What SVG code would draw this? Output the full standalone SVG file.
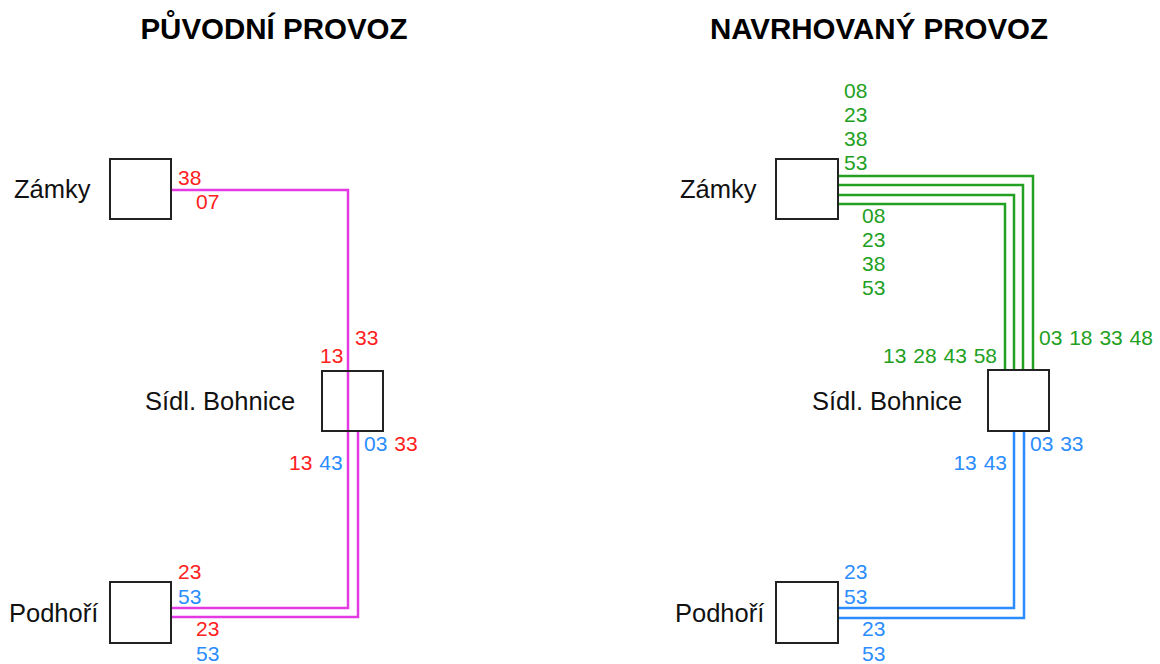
<svg xmlns="http://www.w3.org/2000/svg" width="1160" height="664" viewBox="0 0 1160 664">
  <style>
    .title { font-family: "Liberation Sans", Arial, sans-serif; font-weight: bold; font-size: 29.5px; fill: #000; text-anchor: middle; }
    .stop { fill: #fff; stroke: #222; stroke-width: 2; }
    .name { font-family: "Liberation Sans", Arial, sans-serif; font-size: 25.5px; fill: #111; }
    .num { font-family: "Liberation Sans", Arial, sans-serif; font-size: 21px; word-spacing: 1px; }
    .red { fill: #ff2020; }
    .blue { fill: #2a8cff; }
    .green { fill: #22a022; }
    .line { fill: none; stroke-width: 2.5; stroke-linejoin: miter; }
    .mag { stroke: #e33ae3; }
    .gr { stroke: #22a022; }
    .bl { stroke: #2a8cff; }
  </style>

  <rect width="1160" height="664" fill="#fff"/>

  <text class="title" x="274" y="39">PŮVODNÍ PROVOZ</text>
  <text class="title" x="879" y="39">NAVRHOVANÝ PROVOZ</text>

  <!-- routes -->
  <g id="connectors">
    <!-- original operation -->
    <path class="line mag" d="M171 190 H348 V608 H171"/>
    <path class="line mag" d="M358 431 V617 H171"/>
    <!-- proposed operation -->
    <path class="line gr" d="M838 176 H1033 V370"/>
    <path class="line gr" d="M838 185 H1023 V370"/>
    <path class="line gr" d="M838 195 H1014 V370"/>
    <path class="line gr" d="M838 204 H1005 V370"/>
    <path class="line bl" d="M1014 431 V608 H838"/>
    <path class="line bl" d="M1024 431 V618 H838"/>
  </g>

  <!-- left: original -->
  <g id="zamky-a">
    <rect class="stop" x="110" y="159" width="61" height="60"/>
    <text class="name" x="14" y="198">Zámky</text>
  </g>
  <g id="bohnice-a">
    <rect class="stop" x="322" y="371" width="61" height="60" fill-opacity="0"/>
    <text class="name" x="145" y="410">Sídl. Bohnice</text>
  </g>
  <g id="podhori-a">
    <rect class="stop" x="110" y="582" width="61" height="61"/>
    <text class="name" x="9" y="622">Podhoří</text>
  </g>

  <g id="times-a">
    <text class="num red" x="178" y="185">38</text>
    <text class="num red" x="196" y="209">07</text>
    <text class="num red" x="355" y="345">33</text>
    <text class="num red" x="320" y="363">13</text>
    <text class="num" x="364" y="451"><tspan class="blue">03</tspan> <tspan class="red">33</tspan></text>
    <text class="num" x="289" y="470"><tspan class="red">13</tspan> <tspan class="blue">43</tspan></text>
    <text class="num red" x="178" y="579">23</text>
    <text class="num blue" x="178" y="604">53</text>
    <text class="num red" x="196" y="636">23</text>
    <text class="num blue" x="196" y="661">53</text>
  </g>

  <!-- right: proposed -->
  <g id="zamky-b">
    <rect class="stop" x="776" y="159" width="62" height="60"/>
    <text class="name" x="680" y="198">Zámky</text>
  </g>
  <g id="bohnice-b">
    <rect class="stop" x="988" y="370" width="61" height="61"/>
    <text class="name" x="812" y="410">Sídl. Bohnice</text>
  </g>
  <g id="podhori-b">
    <rect class="stop" x="776" y="582" width="62" height="61"/>
    <text class="name" x="675" y="622">Podhoří</text>
  </g>

  <g id="times-b">
    <text class="num green" x="844" y="98">08</text>
    <text class="num green" x="844" y="122">23</text>
    <text class="num green" x="844" y="146">38</text>
    <text class="num green" x="844" y="170">53</text>
    <text class="num green" x="862" y="223">08</text>
    <text class="num green" x="862" y="247">23</text>
    <text class="num green" x="862" y="271">38</text>
    <text class="num green" x="862" y="295">53</text>
    <text class="num green" x="1039" y="345">03 18 33 48</text>
    <text class="num green" x="997" y="363" text-anchor="end">13 28 43 58</text>
    <text class="num blue" x="1030" y="451">03 33</text>
    <text class="num blue" x="1007" y="470" text-anchor="end">13 43</text>
    <text class="num blue" x="844" y="579">23</text>
    <text class="num blue" x="844" y="604">53</text>
    <text class="num blue" x="862" y="636">23</text>
    <text class="num blue" x="862" y="661">53</text>
  </g>
</svg>
